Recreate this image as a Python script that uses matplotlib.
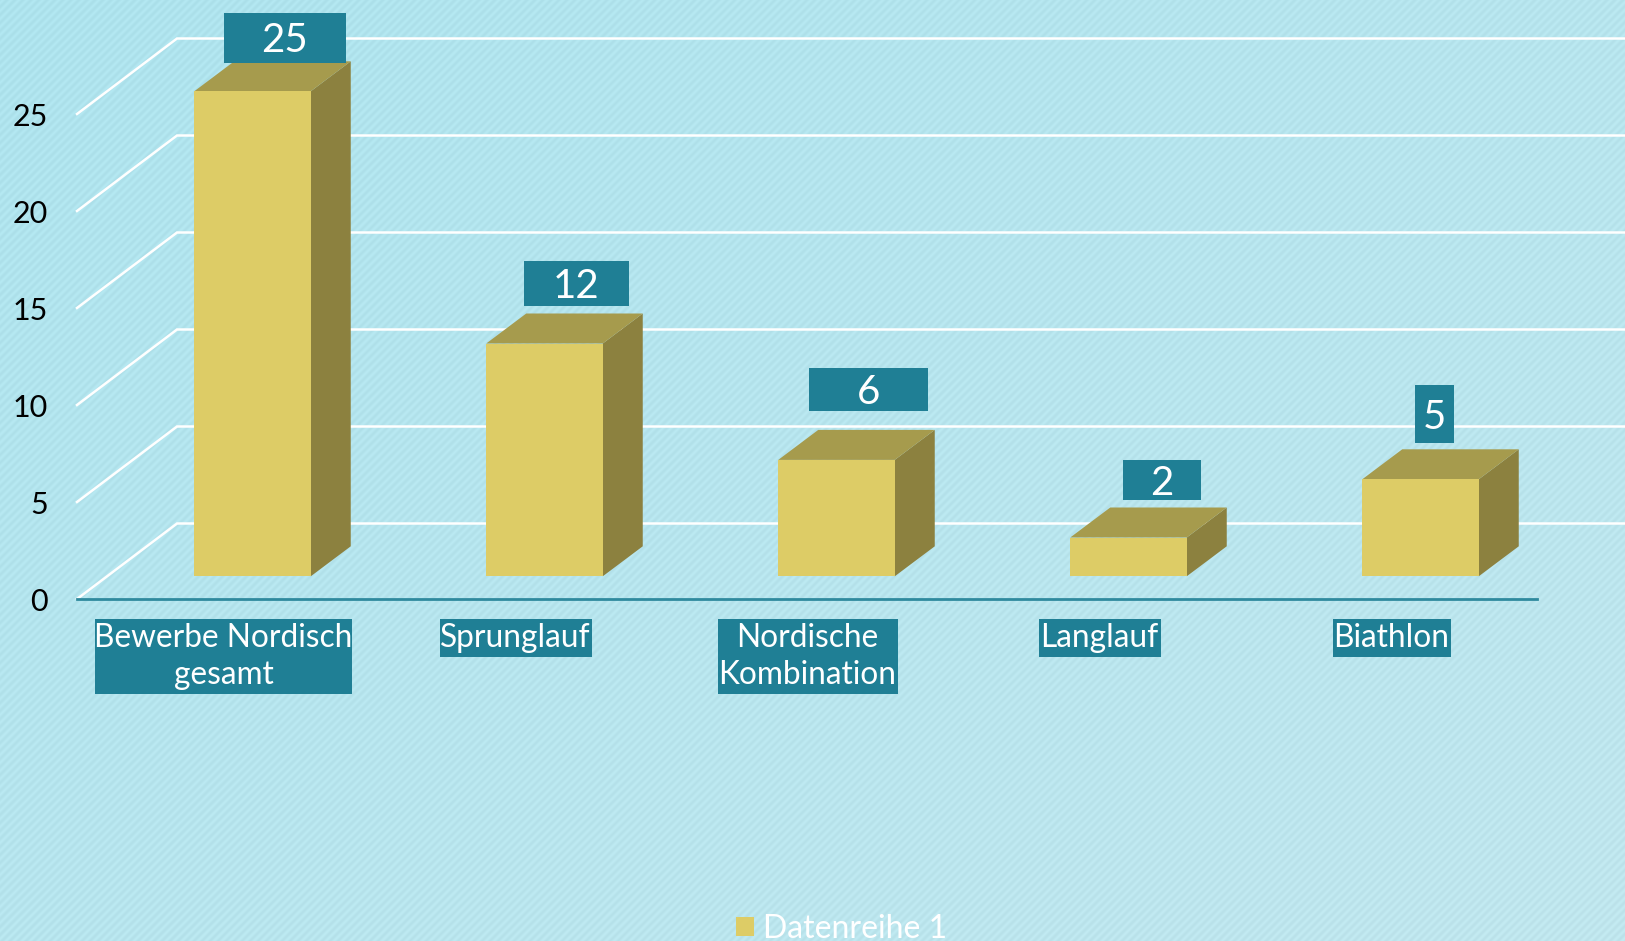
import numpy as np
import matplotlib
matplotlib.use('Agg')
import matplotlib.pyplot as plt
from matplotlib.patches import Polygon, Rectangle

plt.rcParams['font.family'] = ['Lato', 'DejaVu Sans']

# Daten
kategorien = ['Bewerbe Nordisch\ngesamt', 'Sprunglauf', 'Nordische\nKombination', 'Langlauf', 'Biathlon']
werte = [25, 12, 6, 2, 5]
y_ticks = [0, 5, 10, 15, 20, 25]
serie = 'Datenreihe 1'

# Layout der Wertelabels (Pixel): Versatz zur Balkenmitte, Breite, Hoehe, Abstand zur Balkenoberkante
label_dx = [32, 32, 32, 33, 14]
label_w = [122, 105, 119, 78, 39]
label_h = [50, 45, 43, 40, 58]
label_gap = [-1.5, 8, 19, 7, 6]
# Kategorielabels: Versatz zur Balkenmitte, Kastenbreite
kat_dx = [-29, -29, -29, -29, -29]
kat_w = [257, 152, 180, 122, 118]

# Farben
GELB = '#DDCC66'
OLIV = '#A69B4D'
DUNKEL = '#8C813F'
TEAL = '#1F7F95'
ACHSE = '#2F8A9E'

W, H = 1625, 941
PX_X = 292.0   # Pixel je Kategorie
PX_Y = 19.4    # Pixel je Wert
X0, Y0 = 252.5, 576.3

fig = plt.figure(figsize=(W/100, H/100), dpi=100)
ax = fig.add_axes([0, 0, 1, 1])
ax.set_xlim((0 - X0)/PX_X, (W - X0)/PX_X)
ax.set_ylim((Y0 - H)/PX_Y, Y0/PX_Y)
ax.axis('off')

# Hintergrund mit feinen Streifen und leichtem Verlauf
yy, xx = np.mgrid[0:H, 0:W]
t = (xx/W + yy/H)/2
streifen = 0.5 + 0.5*np.sin(2*np.pi*(xx + yy)/8.0)
farbe1 = np.array([0.665, 0.875, 0.915])
farbe2 = np.array([0.735, 0.885, 0.915])
bg = farbe1[None, None, :]*(1 - t[..., None]) + farbe2[None, None, :]*t[..., None]
bg = bg + 0.035*streifen[..., None]
ax.imshow(np.clip(bg, 0, 1), extent=ax.get_xlim() + ax.get_ylim(), aspect='auto', zorder=0,
          interpolation='nearest')

# Tiefe
dx = 40/PX_X
dy = 30/PX_Y
bw = 116.5/PX_X
wand_dx = 100/PX_X
wand_y = 52.8/PX_Y
boden_y = -22.7/PX_Y
links = (77 - X0)/PX_X
rechts = (1537 - X0)/PX_X
xmax = ax.get_xlim()[1]

# Gitterlinien
for v in y_ticks:
    ax.plot([links, links + wand_dx, xmax], [v + boden_y, v + wand_y, v + wand_y],
            color='white', lw=1.8, zorder=1, solid_joinstyle='miter')
    ax.text(links - 29/PX_X, v + boden_y - 3/PX_Y, str(v), ha='right', va='center',
            color='black', fontsize=22, zorder=5)

ax.plot([links, rechts], [boden_y, boden_y], color=ACHSE, lw=2, zorder=2)

# Balken
for i, v in enumerate(werte):
    l = i - bw/2
    r = i + bw/2
    ax.add_patch(Polygon([(r, 0), (r + dx, dy), (r + dx, v + dy), (r, v)], fc=DUNKEL, ec='none', zorder=3))
    ax.add_patch(Polygon([(l, v), (r, v), (r + dx, v + dy), (l + dx, v + dy)], fc=OLIV, ec='none', zorder=3))
    ax.add_patch(Rectangle((l, 0), bw, v, fc=GELB, ec='none', zorder=3))

    # Wertelabel
    w = label_w[i]/PX_X
    h = label_h[i]/PX_Y
    cx = i + label_dx[i]/PX_X
    unten = v + dy + label_gap[i]/PX_Y
    ax.add_patch(Rectangle((cx - w/2, unten), w, h, fc=TEAL, ec='none', zorder=4))
    ax.text(cx, unten + h/2 - 3/PX_Y, str(v), ha='center', va='center', color='white', fontsize=29, zorder=5)

    # Kategorielabel
    zeilen = kategorien[i].count('\n') + 1
    kh = 37.5*zeilen/PX_Y
    oben = (Y0 - 619)/PX_Y
    kx = i + kat_dx[i]/PX_X
    kw = kat_w[i]/PX_X
    ax.add_patch(Rectangle((kx - kw/2, oben - kh), kw, kh, fc=TEAL, ec='none', zorder=4))
    ax.text(kx, oben - kh/2, kategorien[i], ha='center', va='center',
            color='white', fontsize=22.8, linespacing=1.31, zorder=5)

# Legende
handle = Rectangle((0, 0), 1, 1, fc=GELB, ec='none')
ax.legend([handle], [serie], loc='lower center', bbox_to_anchor=(0.518, -0.003), frameon=False,
          fontsize=23, labelcolor='white', handlelength=0.55, handleheight=0.55, handletextpad=0.3,
          borderaxespad=0, borderpad=0)

fig.savefig('out.png', dpi=100)
